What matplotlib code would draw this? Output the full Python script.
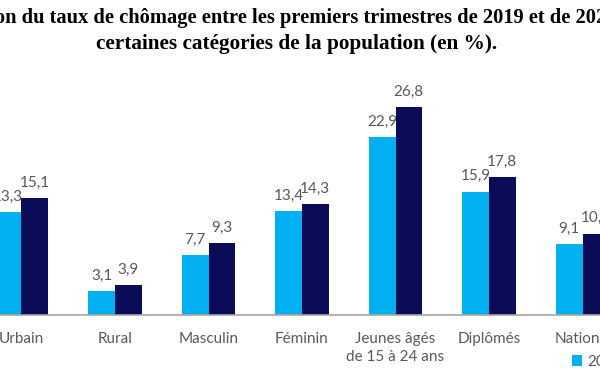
import matplotlib
matplotlib.use("Agg")
import matplotlib.pyplot as plt
import numpy as np

categories = ["Urbain", "Rural", "Masculin", "Féminin", "Jeunes âgés\nde 15 à 24 ans", "Diplômés", "National"]
series_names = ["2019", "2020"]
values_2019 = [13.3, 3.1, 7.7, 13.4, 22.9, 15.9, 9.1]
values_2020 = [15.1, 3.9, 9.3, 14.3, 26.8, 17.8, 10.5]

title_line1 = "Évolution du taux de chômage entre les premiers trimestres de 2019 et de 2020 selon"
title_line2 = "certaines catégories de la population (en %)."

light = "#00b0f0"
dark = "#0a0c58"
grey_txt = "#595959"

fig = plt.figure(figsize=(6, 3.72), dpi=100)
ax = fig.add_axes([0, 1 - 315 / 372, 1, 235 / 372])

x = np.arange(len(categories))
w = 0.285
b1 = ax.bar(x - w / 2, values_2019, w, color=light, label=series_names[0])
b2 = ax.bar(x + w / 2, values_2020, w, color=dark, label=series_names[1])

for bars, vals in ((b1, values_2019), (b2, values_2020)):
    for bar, v in zip(bars, vals):
        ax.annotate(f"{v:.1f}".replace(".", ","),
                    (bar.get_x() + bar.get_width() / 2, v),
                    xytext=(0, 6), textcoords="offset points",
                    ha="center", va="bottom", fontsize=11,
                    color=grey_txt, family="Lato")

ax.set_xlim(-21.5 / 93.5, (600 - 21.5) / 93.5)
ax.set_ylim(0, 235 / 7.76)
ax.set_xticks(x)
ax.set_xticklabels(categories, fontsize=11, color=grey_txt, family="Lato", linespacing=1.4)
ax.tick_params(axis="x", length=0, pad=12)
ax.set_yticks([])
for s in ("top", "left", "right"):
    ax.spines[s].set_visible(False)
ax.spines["bottom"].set_color("#a6a6a6")
ax.spines["bottom"].set_linewidth(1.2)

fig.text(0.497, 1 - 17 / 372, title_line1, ha="center", va="center",
         fontsize=14.8, fontweight="bold", family="Liberation Serif")
fig.text(0.495, 1 - 44 / 372, title_line2, ha="center", va="center",
         fontsize=15.3, fontweight="bold", family="Liberation Serif")

fig.legend(handles=[b1, b2], loc="center left", bbox_to_anchor=(558 / 600, 1 - 362 / 372),
           ncol=2, frameon=False, handlelength=0.7, handleheight=0.7, handletextpad=0.3,
           prop={"family": "Lato", "size": 11}, labelcolor=grey_txt)

fig.savefig("out.png", dpi=100)
